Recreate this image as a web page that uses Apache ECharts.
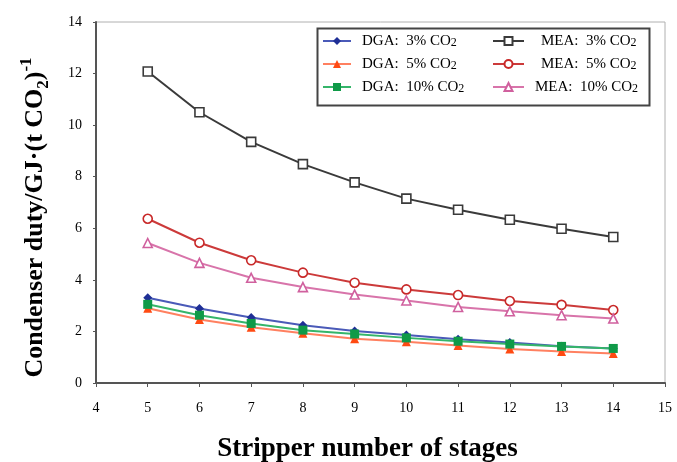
<!DOCTYPE html>
<html><head><meta charset="utf-8">
<script src="https://cdn.jsdelivr.net/npm/echarts@6/dist/echarts.min.js"></script>
<style>html,body{margin:0;padding:0;background:#fff}#c{width:677px;height:462px}</style>
</head><body><div id="c"></div>
<script>
var stages = [5, 6, 7, 8, 9, 10, 11, 12, 13, 14];
var dga3  = [3.31, 2.89, 2.54, 2.24, 2.02, 1.86, 1.70, 1.57, 1.43, 1.34];
var dga5  = [2.90, 2.46, 2.16, 1.93, 1.72, 1.60, 1.45, 1.32, 1.22, 1.14];
var dga10 = [3.05, 2.63, 2.31, 2.05, 1.90, 1.75, 1.62, 1.51, 1.42, 1.34];
var mea3  = [12.08, 10.50, 9.35, 8.49, 7.78, 7.15, 6.72, 6.33, 5.98, 5.66];
var mea5  = [6.37, 5.44, 4.76, 4.28, 3.89, 3.63, 3.41, 3.18, 3.03, 2.83];
var mea10 = [5.43, 4.66, 4.08, 3.72, 3.43, 3.20, 2.95, 2.78, 2.63, 2.50];
var names = ['DGA:  3% CO2','DGA:  5% CO2','DGA:  10% CO2','MEA:  3% CO2','MEA:  5% CO2','MEA:  10% CO2'];
var serif = '"Liberation Serif","DejaVu Serif",serif';

function pts(arr){ return stages.map(function(s,i){ return [s, arr[i]]; }); }
function mk(name, arr, color, lineColor, symbol, hollow){
  return {
    name: name, type: 'line', data: pts(arr), symbol: symbol, symbolSize: 9,
    lineStyle: {color: lineColor, width: 2},
    itemStyle: hollow ? {color: '#fff', borderColor: color, borderWidth: 1.6} : {color: color, borderWidth: 0},
    emphasis: {disabled: true}, z: hollow ? 3 : 4
  };
}
function legText(pad){
  return {fontFamily: serif, fontSize: 15, color: '#000', lineHeight: 16, padding: [0,0,0,pad],
    rich: {t: {fontFamily: serif, fontSize: 15, color: '#000', lineHeight: 16},
           s: {fontFamily: serif, fontSize: 12, color: '#000', lineHeight: 16, verticalAlign: 'bottom'}}};
}
function legFmt(n){ return '{t|' + n.slice(0, -1) + '}{s|2}'; }
var chart = echarts.init(document.getElementById('c'), null, {renderer: 'canvas'});
chart.setOption({
  animation: false,
  backgroundColor: '#fff',
  grid: {left: 96, right: 12, top: 22, bottom: 79, show: true, borderColor: '#b0b0b0', borderWidth: 1,
         containLabel: false, outerBoundsMode: 'none'},
  xAxis: {
    type: 'value', min: 4, max: 15, interval: 1,
    name: 'Stripper number of stages', nameLocation: 'middle', nameGap: 53,
    nameTextStyle: {fontFamily: serif, fontSize: 27, fontWeight: 'bold', color: '#000', padding: [0, 26, 0, 0]},
    axisLine: {lineStyle: {color: '#555', width: 2}},
    axisTick: {show: true, length: 4, lineStyle: {color: '#555'}},
    axisLabel: {fontFamily: serif, fontSize: 14, color: '#000', margin: 18},
    splitLine: {show: false}
  },
  yAxis: {
    type: 'value', min: 0, max: 14, interval: 2,
    name: '{b|Condenser duty/GJ·(t CO}{s|2}{b|)}{p|-1}', nameLocation: 'middle', nameGap: 44,
    nameTextStyle: {
      padding: [0, 30, 0, 0],
      rich: {
        b: {fontFamily: serif, fontSize: 26, fontWeight: 'bold', color: '#000', lineHeight: 34, verticalAlign: 'middle'},
        s: {fontFamily: serif, fontSize: 17, fontWeight: 'bold', color: '#000', lineHeight: 34, verticalAlign: 'bottom'},
        p: {fontFamily: serif, fontSize: 17, fontWeight: 'bold', color: '#000', lineHeight: 34, verticalAlign: 'top'}
      }
    },
    axisLine: {show: true, lineStyle: {color: '#555', width: 2}},
    axisTick: {show: true, length: 3, lineStyle: {color: '#555'}},
    axisLabel: {fontFamily: serif, fontSize: 14, color: '#000', margin: 14},
    splitLine: {show: false}
  },
  legend: [
    {orient: 'vertical', left: 322, top: 33, padding: 0, itemWidth: 28, itemHeight: 10, itemGap: 7,
     data: [names[0], names[1], names[2]], formatter: legFmt, textStyle: legText(6)},
    {orient: 'vertical', left: 492, top: 33, padding: 0, itemWidth: 31, itemHeight: 10, itemGap: 7,
     data: [names[3], names[4], {name: names[5], textStyle: {padding: [0,0,0,6]}}], formatter: legFmt, textStyle: legText(12)}
  ],
  graphic: [{type: 'rect', left: 315, top: 26, shape: {width: 332, height: 77},
    style: {fill: 'none', stroke: '#444', lineWidth: 2}, z: 100, silent: true}],
  series: [
    mk(names[0], dga3, '#1f2f96', '#4a5ab8', 'diamond', false),
    mk(names[1], dga5, '#ff4a12', '#ff8060', 'triangle', false),
    mk(names[2], dga10, '#0f9a48', '#35b56a', 'rect', false),
    mk(names[3], mea3, '#3a3a3a', '#3a3a3a', 'rect', true),
    mk(names[4], mea5, '#c82828', '#cc3a3a', 'circle', true),
    mk(names[5], mea10, '#d0609e', '#d874aa', 'triangle', true)
  ]
});
</script></body></html>
